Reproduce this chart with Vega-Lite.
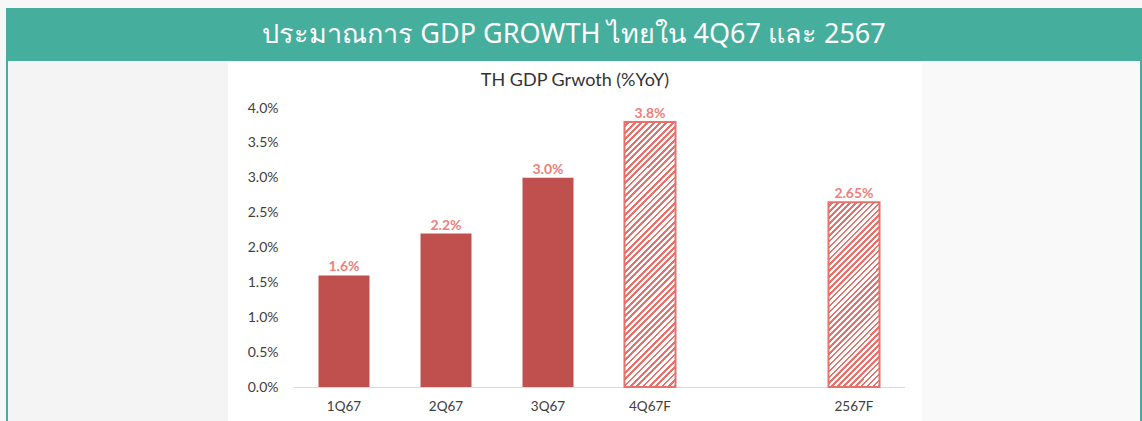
{
"$schema": "https://vega.github.io/schema/vega-lite/v6.json",
"background": "#f7f7f7",
"padding": {"left": 6, "top": 8, "right": 0, "bottom": 0},
"config": {"view": {"stroke": null}, "concat": {"spacing": 0}},
"spacing": 0,
"bounds": "flush",
"vconcat": [
{
"data": {"values": [{"t": "ประมาณการ GDP GROWTH ไทยใน 4Q67 และ 2567"}]},
"width": 1136, "height": 53,
"view": {"fill": "#45ae9c", "stroke": null},
"mark": {"type": "text", "font": "Noto Sans", "fontSize": 27, "fontWeight": "normal", "fill": "#ffffff", "baseline": "middle", "align": "center"},
"encoding": {"text": {"field": "t"}}
},
{
"spacing": 0,
"bounds": "flush",
"hconcat": [
{"data": {"values": [{}]}, "width": 2, "height": 360, "view": {"fill": "#45ae9c", "stroke": null}, "mark": {"type": "text", "text": ""}, "encoding": {}},
{"data": {"values": [{}]}, "width": 220, "height": 360, "view": {"fill": "#f4f4f4", "stroke": null}, "mark": {"type": "text", "text": ""}, "encoding": {}},
{"data": {"values": [{}]}, "width": 65, "height": 360, "view": {"fill": "#ffffff", "stroke": null}, "mark": {"type": "text", "text": ""}, "encoding": {}},
{
"width": 612, "height": 360,
"view": {"fill": "#ffffff", "stroke": null},
"data": {"values": [
{"q": "1Q67", "v": 0.016, "label": "1.6%", "kind": "actual"},
{"q": "2Q67", "v": 0.022, "label": "2.2%", "kind": "actual"},
{"q": "3Q67", "v": 0.030, "label": "3.0%", "kind": "actual"},
{"q": "4Q67F", "v": 0.038, "label": "3.8%", "kind": "forecast"},
{"q": "2567F", "v": 0.0265, "label": "2.65%", "kind": "forecast"}
]},
"title": {"text": "TH GDP Grwoth (%YoY)", "font": "Lato", "fontSize": 18, "fontWeight": "normal", "color": "#333333", "anchor": "middle", "frame": "group", "offset": -43, "dx": -24, "baseline": "alphabetic"},
"encoding": {
"x": {"field": "q", "type": "nominal", "sort": null,
"scale": {"domain": ["1Q67", "2Q67", "3Q67", "4Q67F", " ", "2567F"], "paddingInner": 0.5, "paddingOuter": 0.25},
"axis": {"orient": "bottom", "offset": -34, "domainColor": "#d9d9d9", "domainWidth": 1, "ticks": false, "labelPadding": 12, "labelFont": "Lato", "labelFontSize": 13.5, "labelColor": "#404040", "labelAngle": 0, "title": null, "grid": false}},
"y": {"field": "v", "type": "quantitative",
"scale": {"domain": [-0.00487, 0.04674], "nice": false, "zero": false},
"axis": {"values": [0, 0.005, 0.01, 0.015, 0.02, 0.025, 0.03, 0.035, 0.04], "format": ".1%", "domain": false, "ticks": false, "grid": false, "labelPadding": 15, "labelFont": "Lato", "labelFontSize": 14, "labelColor": "#404040", "title": null}}
},
"layer": [
{"transform": [{"filter": "datum.kind === 'actual'"}], "mark": {"type": "bar", "fill": "#c0504d"}},
{"transform": [{"filter": "datum.kind === 'forecast'"}], "mark": {"type": "bar", "stroke": "#e8716c", "strokeWidth": 2},
"encoding": {"fill": {"condition": {"test": "datum.q === '4Q67F'", "value": {"gradient": "linear", "x1": 0, "y1": 0, "x2": 0.2211, "y2": 1.1497, "stops": [
{"offset":0,"color":"#fff"},{"offset":0.011,"color":"#fff"},{"offset":0.011,"color":"#e8716c"},{"offset":0.02,"color":"#e8716c"},
{"offset":0.02,"color":"#fff"},{"offset":0.031,"color":"#fff"},{"offset":0.031,"color":"#e8716c"},{"offset":0.04,"color":"#e8716c"},
{"offset":0.04,"color":"#fff"},{"offset":0.051,"color":"#fff"},{"offset":0.051,"color":"#e8716c"},{"offset":0.06,"color":"#e8716c"},
{"offset":0.06,"color":"#fff"},{"offset":0.071,"color":"#fff"},{"offset":0.071,"color":"#e8716c"},{"offset":0.08,"color":"#e8716c"},
{"offset":0.08,"color":"#fff"},{"offset":0.091,"color":"#fff"},{"offset":0.091,"color":"#e8716c"},{"offset":0.1,"color":"#e8716c"},
{"offset":0.1,"color":"#fff"},{"offset":0.111,"color":"#fff"},{"offset":0.111,"color":"#e8716c"},{"offset":0.12,"color":"#e8716c"},
{"offset":0.12,"color":"#fff"},{"offset":0.131,"color":"#fff"},{"offset":0.131,"color":"#e8716c"},{"offset":0.14,"color":"#e8716c"},
{"offset":0.14,"color":"#fff"},{"offset":0.151,"color":"#fff"},{"offset":0.151,"color":"#e8716c"},{"offset":0.16,"color":"#e8716c"},
{"offset":0.16,"color":"#fff"},{"offset":0.171,"color":"#fff"},{"offset":0.171,"color":"#e8716c"},{"offset":0.18,"color":"#e8716c"},
{"offset":0.18,"color":"#fff"},{"offset":0.191,"color":"#fff"},{"offset":0.191,"color":"#e8716c"},{"offset":0.2,"color":"#e8716c"},
{"offset":0.2,"color":"#fff"},{"offset":0.211,"color":"#fff"},{"offset":0.211,"color":"#e8716c"},{"offset":0.22,"color":"#e8716c"},
{"offset":0.22,"color":"#fff"},{"offset":0.231,"color":"#fff"},{"offset":0.231,"color":"#e8716c"},{"offset":0.24,"color":"#e8716c"},
{"offset":0.24,"color":"#fff"},{"offset":0.251,"color":"#fff"},{"offset":0.251,"color":"#e8716c"},{"offset":0.26,"color":"#e8716c"},
{"offset":0.26,"color":"#fff"},{"offset":0.271,"color":"#fff"},{"offset":0.271,"color":"#e8716c"},{"offset":0.28,"color":"#e8716c"},
{"offset":0.28,"color":"#fff"},{"offset":0.291,"color":"#fff"},{"offset":0.291,"color":"#e8716c"},{"offset":0.3,"color":"#e8716c"},
{"offset":0.3,"color":"#fff"},{"offset":0.311,"color":"#fff"},{"offset":0.311,"color":"#e8716c"},{"offset":0.32,"color":"#e8716c"},
{"offset":0.32,"color":"#fff"},{"offset":0.331,"color":"#fff"},{"offset":0.331,"color":"#e8716c"},{"offset":0.34,"color":"#e8716c"},
{"offset":0.34,"color":"#fff"},{"offset":0.351,"color":"#fff"},{"offset":0.351,"color":"#e8716c"},{"offset":0.36,"color":"#e8716c"},
{"offset":0.36,"color":"#fff"},{"offset":0.371,"color":"#fff"},{"offset":0.371,"color":"#e8716c"},{"offset":0.38,"color":"#e8716c"},
{"offset":0.38,"color":"#fff"},{"offset":0.391,"color":"#fff"},{"offset":0.391,"color":"#e8716c"},{"offset":0.4,"color":"#e8716c"},
{"offset":0.4,"color":"#fff"},{"offset":0.411,"color":"#fff"},{"offset":0.411,"color":"#e8716c"},{"offset":0.42,"color":"#e8716c"},
{"offset":0.42,"color":"#fff"},{"offset":0.431,"color":"#fff"},{"offset":0.431,"color":"#e8716c"},{"offset":0.44,"color":"#e8716c"},
{"offset":0.44,"color":"#fff"},{"offset":0.451,"color":"#fff"},{"offset":0.451,"color":"#e8716c"},{"offset":0.46,"color":"#e8716c"},
{"offset":0.46,"color":"#fff"},{"offset":0.471,"color":"#fff"},{"offset":0.471,"color":"#e8716c"},{"offset":0.48,"color":"#e8716c"},
{"offset":0.48,"color":"#fff"},{"offset":0.491,"color":"#fff"},{"offset":0.491,"color":"#e8716c"},{"offset":0.5,"color":"#e8716c"},
{"offset":0.5,"color":"#fff"},{"offset":0.511,"color":"#fff"},{"offset":0.511,"color":"#e8716c"},{"offset":0.52,"color":"#e8716c"},
{"offset":0.52,"color":"#fff"},{"offset":0.531,"color":"#fff"},{"offset":0.531,"color":"#e8716c"},{"offset":0.54,"color":"#e8716c"},
{"offset":0.54,"color":"#fff"},{"offset":0.551,"color":"#fff"},{"offset":0.551,"color":"#e8716c"},{"offset":0.56,"color":"#e8716c"},
{"offset":0.56,"color":"#fff"},{"offset":0.571,"color":"#fff"},{"offset":0.571,"color":"#e8716c"},{"offset":0.58,"color":"#e8716c"},
{"offset":0.58,"color":"#fff"},{"offset":0.591,"color":"#fff"},{"offset":0.591,"color":"#e8716c"},{"offset":0.6,"color":"#e8716c"},
{"offset":0.6,"color":"#fff"},{"offset":0.611,"color":"#fff"},{"offset":0.611,"color":"#e8716c"},{"offset":0.62,"color":"#e8716c"},
{"offset":0.62,"color":"#fff"},{"offset":0.631,"color":"#fff"},{"offset":0.631,"color":"#e8716c"},{"offset":0.64,"color":"#e8716c"},
{"offset":0.64,"color":"#fff"},{"offset":0.651,"color":"#fff"},{"offset":0.651,"color":"#e8716c"},{"offset":0.66,"color":"#e8716c"},
{"offset":0.66,"color":"#fff"},{"offset":0.671,"color":"#fff"},{"offset":0.671,"color":"#e8716c"},{"offset":0.68,"color":"#e8716c"},
{"offset":0.68,"color":"#fff"},{"offset":0.691,"color":"#fff"},{"offset":0.691,"color":"#e8716c"},{"offset":0.7,"color":"#e8716c"},
{"offset":0.7,"color":"#fff"},{"offset":0.711,"color":"#fff"},{"offset":0.711,"color":"#e8716c"},{"offset":0.72,"color":"#e8716c"},
{"offset":0.72,"color":"#fff"},{"offset":0.731,"color":"#fff"},{"offset":0.731,"color":"#e8716c"},{"offset":0.74,"color":"#e8716c"},
{"offset":0.74,"color":"#fff"},{"offset":0.751,"color":"#fff"},{"offset":0.751,"color":"#e8716c"},{"offset":0.76,"color":"#e8716c"},
{"offset":0.76,"color":"#fff"},{"offset":0.771,"color":"#fff"},{"offset":0.771,"color":"#e8716c"},{"offset":0.78,"color":"#e8716c"},
{"offset":0.78,"color":"#fff"},{"offset":0.791,"color":"#fff"},{"offset":0.791,"color":"#e8716c"},{"offset":0.8,"color":"#e8716c"},
{"offset":0.8,"color":"#fff"},{"offset":0.811,"color":"#fff"},{"offset":0.811,"color":"#e8716c"},{"offset":0.82,"color":"#e8716c"},
{"offset":0.82,"color":"#fff"},{"offset":0.831,"color":"#fff"},{"offset":0.831,"color":"#e8716c"},{"offset":0.84,"color":"#e8716c"},
{"offset":0.84,"color":"#fff"},{"offset":0.851,"color":"#fff"},{"offset":0.851,"color":"#e8716c"},{"offset":0.86,"color":"#e8716c"},
{"offset":0.86,"color":"#fff"},{"offset":0.871,"color":"#fff"},{"offset":0.871,"color":"#e8716c"},{"offset":0.88,"color":"#e8716c"},
{"offset":0.88,"color":"#fff"},{"offset":0.891,"color":"#fff"},{"offset":0.891,"color":"#e8716c"},{"offset":0.9,"color":"#e8716c"},
{"offset":0.9,"color":"#fff"},{"offset":0.911,"color":"#fff"},{"offset":0.911,"color":"#e8716c"},{"offset":0.92,"color":"#e8716c"},
{"offset":0.92,"color":"#fff"},{"offset":0.931,"color":"#fff"},{"offset":0.931,"color":"#e8716c"},{"offset":0.94,"color":"#e8716c"},
{"offset":0.94,"color":"#fff"},{"offset":0.951,"color":"#fff"},{"offset":0.951,"color":"#e8716c"},{"offset":0.96,"color":"#e8716c"},
{"offset":0.96,"color":"#fff"},{"offset":0.971,"color":"#fff"},{"offset":0.971,"color":"#e8716c"},{"offset":0.98,"color":"#e8716c"},
{"offset":0.98,"color":"#fff"},{"offset":0.991,"color":"#fff"},{"offset":0.991,"color":"#e8716c"},{"offset":1,"color":"#e8716c"}
]}}, "value": {"gradient": "linear", "x1": 0, "y1": 0, "x2": 0.3277, "y2": 1.186, "stops": [
{"offset":0,"color":"#fff"},{"offset":0.014,"color":"#fff"},{"offset":0.014,"color":"#e8716c"},{"offset":0.025,"color":"#e8716c"},
{"offset":0.025,"color":"#fff"},{"offset":0.039,"color":"#fff"},{"offset":0.039,"color":"#e8716c"},{"offset":0.05,"color":"#e8716c"},
{"offset":0.05,"color":"#fff"},{"offset":0.064,"color":"#fff"},{"offset":0.064,"color":"#e8716c"},{"offset":0.075,"color":"#e8716c"},
{"offset":0.075,"color":"#fff"},{"offset":0.089,"color":"#fff"},{"offset":0.089,"color":"#e8716c"},{"offset":0.1,"color":"#e8716c"},
{"offset":0.1,"color":"#fff"},{"offset":0.114,"color":"#fff"},{"offset":0.114,"color":"#e8716c"},{"offset":0.125,"color":"#e8716c"},
{"offset":0.125,"color":"#fff"},{"offset":0.139,"color":"#fff"},{"offset":0.139,"color":"#e8716c"},{"offset":0.15,"color":"#e8716c"},
{"offset":0.15,"color":"#fff"},{"offset":0.164,"color":"#fff"},{"offset":0.164,"color":"#e8716c"},{"offset":0.175,"color":"#e8716c"},
{"offset":0.175,"color":"#fff"},{"offset":0.189,"color":"#fff"},{"offset":0.189,"color":"#e8716c"},{"offset":0.2,"color":"#e8716c"},
{"offset":0.2,"color":"#fff"},{"offset":0.214,"color":"#fff"},{"offset":0.214,"color":"#e8716c"},{"offset":0.225,"color":"#e8716c"},
{"offset":0.225,"color":"#fff"},{"offset":0.239,"color":"#fff"},{"offset":0.239,"color":"#e8716c"},{"offset":0.25,"color":"#e8716c"},
{"offset":0.25,"color":"#fff"},{"offset":0.264,"color":"#fff"},{"offset":0.264,"color":"#e8716c"},{"offset":0.275,"color":"#e8716c"},
{"offset":0.275,"color":"#fff"},{"offset":0.289,"color":"#fff"},{"offset":0.289,"color":"#e8716c"},{"offset":0.3,"color":"#e8716c"},
{"offset":0.3,"color":"#fff"},{"offset":0.314,"color":"#fff"},{"offset":0.314,"color":"#e8716c"},{"offset":0.325,"color":"#e8716c"},
{"offset":0.325,"color":"#fff"},{"offset":0.339,"color":"#fff"},{"offset":0.339,"color":"#e8716c"},{"offset":0.35,"color":"#e8716c"},
{"offset":0.35,"color":"#fff"},{"offset":0.364,"color":"#fff"},{"offset":0.364,"color":"#e8716c"},{"offset":0.375,"color":"#e8716c"},
{"offset":0.375,"color":"#fff"},{"offset":0.389,"color":"#fff"},{"offset":0.389,"color":"#e8716c"},{"offset":0.4,"color":"#e8716c"},
{"offset":0.4,"color":"#fff"},{"offset":0.414,"color":"#fff"},{"offset":0.414,"color":"#e8716c"},{"offset":0.425,"color":"#e8716c"},
{"offset":0.425,"color":"#fff"},{"offset":0.439,"color":"#fff"},{"offset":0.439,"color":"#e8716c"},{"offset":0.45,"color":"#e8716c"},
{"offset":0.45,"color":"#fff"},{"offset":0.464,"color":"#fff"},{"offset":0.464,"color":"#e8716c"},{"offset":0.475,"color":"#e8716c"},
{"offset":0.475,"color":"#fff"},{"offset":0.489,"color":"#fff"},{"offset":0.489,"color":"#e8716c"},{"offset":0.5,"color":"#e8716c"},
{"offset":0.5,"color":"#fff"},{"offset":0.514,"color":"#fff"},{"offset":0.514,"color":"#e8716c"},{"offset":0.525,"color":"#e8716c"},
{"offset":0.525,"color":"#fff"},{"offset":0.539,"color":"#fff"},{"offset":0.539,"color":"#e8716c"},{"offset":0.55,"color":"#e8716c"},
{"offset":0.55,"color":"#fff"},{"offset":0.564,"color":"#fff"},{"offset":0.564,"color":"#e8716c"},{"offset":0.575,"color":"#e8716c"},
{"offset":0.575,"color":"#fff"},{"offset":0.589,"color":"#fff"},{"offset":0.589,"color":"#e8716c"},{"offset":0.6,"color":"#e8716c"},
{"offset":0.6,"color":"#fff"},{"offset":0.614,"color":"#fff"},{"offset":0.614,"color":"#e8716c"},{"offset":0.625,"color":"#e8716c"},
{"offset":0.625,"color":"#fff"},{"offset":0.639,"color":"#fff"},{"offset":0.639,"color":"#e8716c"},{"offset":0.65,"color":"#e8716c"},
{"offset":0.65,"color":"#fff"},{"offset":0.664,"color":"#fff"},{"offset":0.664,"color":"#e8716c"},{"offset":0.675,"color":"#e8716c"},
{"offset":0.675,"color":"#fff"},{"offset":0.689,"color":"#fff"},{"offset":0.689,"color":"#e8716c"},{"offset":0.7,"color":"#e8716c"},
{"offset":0.7,"color":"#fff"},{"offset":0.714,"color":"#fff"},{"offset":0.714,"color":"#e8716c"},{"offset":0.725,"color":"#e8716c"},
{"offset":0.725,"color":"#fff"},{"offset":0.739,"color":"#fff"},{"offset":0.739,"color":"#e8716c"},{"offset":0.75,"color":"#e8716c"},
{"offset":0.75,"color":"#fff"},{"offset":0.764,"color":"#fff"},{"offset":0.764,"color":"#e8716c"},{"offset":0.775,"color":"#e8716c"},
{"offset":0.775,"color":"#fff"},{"offset":0.789,"color":"#fff"},{"offset":0.789,"color":"#e8716c"},{"offset":0.8,"color":"#e8716c"},
{"offset":0.8,"color":"#fff"},{"offset":0.814,"color":"#fff"},{"offset":0.814,"color":"#e8716c"},{"offset":0.825,"color":"#e8716c"},
{"offset":0.825,"color":"#fff"},{"offset":0.839,"color":"#fff"},{"offset":0.839,"color":"#e8716c"},{"offset":0.85,"color":"#e8716c"},
{"offset":0.85,"color":"#fff"},{"offset":0.864,"color":"#fff"},{"offset":0.864,"color":"#e8716c"},{"offset":0.875,"color":"#e8716c"},
{"offset":0.875,"color":"#fff"},{"offset":0.889,"color":"#fff"},{"offset":0.889,"color":"#e8716c"},{"offset":0.9,"color":"#e8716c"},
{"offset":0.9,"color":"#fff"},{"offset":0.914,"color":"#fff"},{"offset":0.914,"color":"#e8716c"},{"offset":0.925,"color":"#e8716c"},
{"offset":0.925,"color":"#fff"},{"offset":0.939,"color":"#fff"},{"offset":0.939,"color":"#e8716c"},{"offset":0.95,"color":"#e8716c"},
{"offset":0.95,"color":"#fff"},{"offset":0.964,"color":"#fff"},{"offset":0.964,"color":"#e8716c"},{"offset":0.975,"color":"#e8716c"},
{"offset":0.975,"color":"#fff"},{"offset":0.989,"color":"#fff"},{"offset":0.989,"color":"#e8716c"},{"offset":1,"color":"#e8716c"}
]}}}},
{"mark": {"type": "text", "dy": -8, "font": "Lato", "fontSize": 14, "fontWeight": "bold", "fill": "#f07e79"}, "encoding": {"text": {"field": "label"}}}
]
},
{"data": {"values": [{}]}, "width": 17, "height": 360, "view": {"fill": "#ffffff", "stroke": null}, "mark": {"type": "text", "text": ""}, "encoding": {}},
{"data": {"values": [{}]}, "width": 218, "height": 360, "view": {"fill": "#f9f9f9", "stroke": null}, "mark": {"type": "text", "text": ""}, "encoding": {}},
{"data": {"values": [{}]}, "width": 2, "height": 360, "view": {"fill": "#45ae9c", "stroke": null}, "mark": {"type": "text", "text": ""}, "encoding": {}}
]
}
]
}
